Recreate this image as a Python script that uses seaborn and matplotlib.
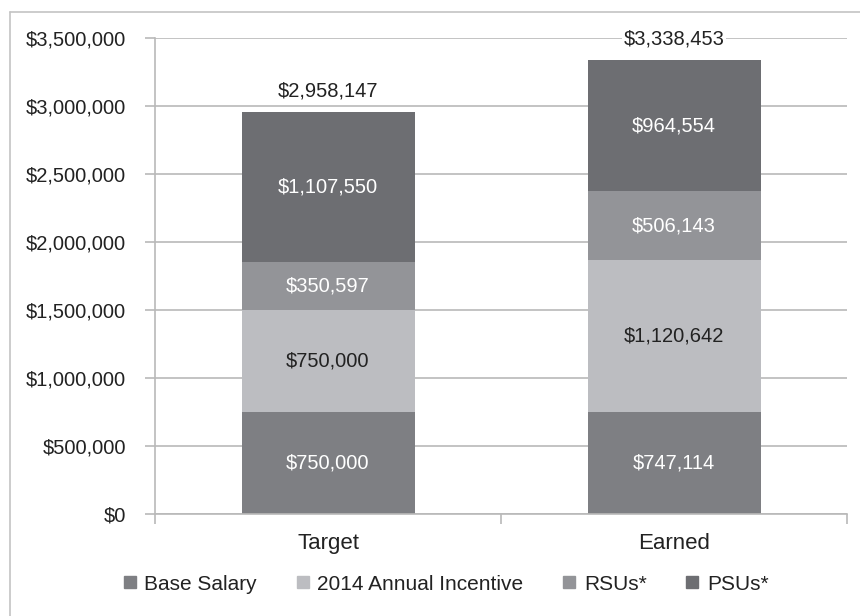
import matplotlib
matplotlib.use("Agg")
import matplotlib.pyplot as plt
from matplotlib.lines import Line2D
import seaborn as sns
import pandas as pd

# Data
categories = ["Target", "Earned"]
base_salary = [750000, 747114]
annual_incentive = [750000, 1120642]
rsus = [350597, 506143]
psus = [1107550, 964554]

series_names = ["Base Salary", "2014 Annual Incentive", "RSUs*", "PSUs*"]
series_values = [base_salary, annual_incentive, rsus, psus]
series_colors = ["#7e7f83", "#bcbdc1", "#939498", "#6d6e72"]
label_colors = ["white", "#222222", "white", "white"]

# Styling
sns.set_style("white")
plt.rcParams["font.family"] = ["Liberation Sans", "DejaVu Sans"]
GRID = "#b9b9b9"
TXT = "#222222"

df = pd.DataFrame({"category": categories})
bottoms = [0] * len(categories)
tops = []
for name, vals in zip(series_names, series_values):
    df[name + "_bottom"] = bottoms
    bottoms = [b + v for b, v in zip(bottoms, vals)]
    df[name + "_top"] = bottoms
    tops.append(list(bottoms))
totals = bottoms

fig = plt.figure(figsize=(8.6, 6.16), dpi=100)
ax = fig.add_axes([155 / 860, 1 - 514 / 616, (847 - 155) / 860, (514 - 38) / 616])

# draw cumulative bars from the tallest layer down so each hides the one below
for name, color in reversed(list(zip(series_names, series_colors))):
    sns.barplot(data=df, x="category", y=name + "_top", color=color,
                saturation=1, width=0.5, ax=ax, zorder=2, linewidth=0)

# segment labels
for name, vals, lc in zip(series_names, series_values, label_colors):
    for i, v in enumerate(vals):
        mid = df.loc[i, name + "_bottom"] + v / 2
        ax.text(i, mid, f"${v:,}", ha="center", va="center",
                color=lc, fontsize=14.5, zorder=4)

# totals
for i, t in enumerate(totals):
    ax.annotate(f"${t:,}", (i, t), xytext=(0, 15), textcoords="offset points",
                ha="center", va="center", fontsize=14.5, color=TXT, zorder=5,
                bbox=dict(facecolor="white", edgecolor="none", pad=1.5))

ax.set_ylim(0, 3500000)
ax.set_xlim(-0.5, 1.5)
ax.set_yticks(range(0, 3500001, 500000))
ax.set_yticklabels([f"${v:,}" for v in range(0, 3500001, 500000)])
ax.set_xticks(range(len(categories)))
ax.set_xticklabels(categories)
ax.set_xticks([-0.5, 0.5, 1.5], minor=True)
ax.set_xlabel("")
ax.set_ylabel("")

ax.yaxis.grid(True, color=GRID, linewidth=1.2, zorder=0)
ax.set_axisbelow(True)
for s in ["top", "right"]:
    ax.spines[s].set_visible(False)
for s in ["left", "bottom"]:
    ax.spines[s].set_color(GRID)
    ax.spines[s].set_linewidth(1.2)

ax.tick_params(axis="y", which="major", length=7, width=1.2, color=GRID,
               pad=14, labelsize=14.5, labelcolor=TXT, left=True)
ax.tick_params(axis="x", which="major", length=0, pad=14,
               labelsize=16, labelcolor=TXT)
ax.tick_params(axis="x", which="minor", length=7, width=1.2, color=GRID,
               bottom=True)

# legend
handles = [Line2D([], [], marker="s", linestyle="none", markersize=8,
                  markerfacecolor=c, markeredgecolor=c) for c in series_colors]
fig.legend(handles, series_names, loc="center", bbox_to_anchor=(446 / 860, 1 - 584 / 616),
           ncol=4, frameon=False, fontsize=15, handlelength=0.6,
           handletextpad=0.4, columnspacing=1.9, labelcolor=TXT)

# outer frame (clipped at right and bottom)
fig.add_artist(Line2D([10 / 860, 1], [1 - 12 / 616] * 2, transform=fig.transFigure,
                      color="#c4c4c4", linewidth=1.2))
fig.add_artist(Line2D([10 / 860] * 2, [0, 1 - 12 / 616], transform=fig.transFigure,
                      color="#c4c4c4", linewidth=1.2))

fig.savefig("out.png", dpi=100)
